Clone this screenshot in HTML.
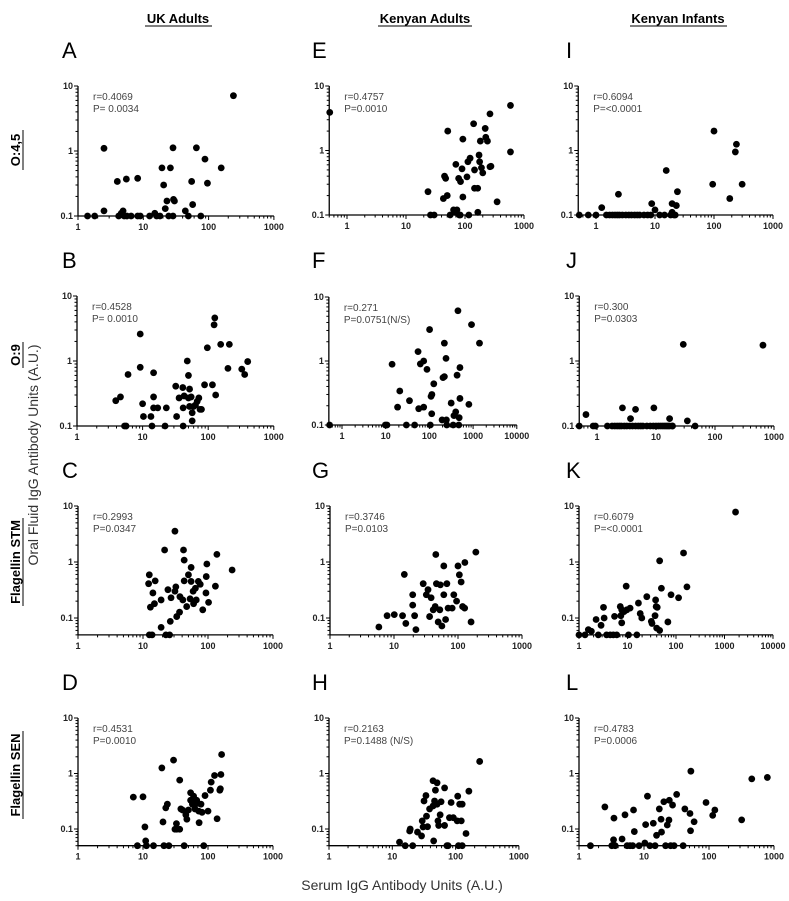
<!DOCTYPE html>
<html><head><meta charset="utf-8">
<style>
html,body{margin:0;padding:0;background:#fff;}
svg{display:block;font-family:"Liberation Sans",Arial,sans-serif;}
</style></head>
<body>
<svg id="fig" width="789" height="901" viewBox="0 0 789 901">
<text x="178" y="23" font-size="13" font-weight="bold" text-anchor="middle">UK Adults</text>
<line x1="145" y1="26" x2="212" y2="26" stroke="#000" stroke-width="1"/>
<text x="425" y="23" font-size="13" font-weight="bold" text-anchor="middle">Kenyan Adults</text>
<line x1="378" y1="26" x2="472" y2="26" stroke="#000" stroke-width="1"/>
<text x="678" y="23" font-size="13" font-weight="bold" text-anchor="middle">Kenyan Infants</text>
<line x1="630" y1="26" x2="727" y2="26" stroke="#000" stroke-width="1"/>

<g transform="translate(20,150) rotate(-90)"><text font-size="13" font-weight="bold" text-anchor="middle">O:4,5</text><line x1="-20" y1="3" x2="20" y2="3" stroke="#000"/></g>
<g transform="translate(20,355) rotate(-90)"><text font-size="13" font-weight="bold" text-anchor="middle">O:9</text><line x1="-13" y1="3" x2="13" y2="3" stroke="#000"/></g>
<g transform="translate(20,562) rotate(-90)"><text font-size="13" font-weight="bold" text-anchor="middle">Flagellin STM</text><line x1="-44" y1="3" x2="44" y2="3" stroke="#000"/></g>
<g transform="translate(20,775) rotate(-90)"><text font-size="13" font-weight="bold" text-anchor="middle">Flagellin SEN</text><line x1="-44" y1="3" x2="44" y2="3" stroke="#000"/></g>
<text transform="translate(38,455) rotate(-90)" font-size="14" text-anchor="middle" fill="#333">Oral Fluid IgG Antibody Units (A.U.)</text>
<text x="402" y="890" font-size="14" text-anchor="middle" fill="#333">Serum IgG Antibody Units (A.U.)</text>
</svg>
<script>
// Panel data (x = serum units, y = oral fluid units)
const aX=[1.4,1.8,2.5,2.5,4.0,5.5,8.2,4.2,4.6,4.9,5.1,5.6,6.5,8.2,9,12.5,15,16,18,19.3,20.5,21.7,23,24.5,26,28.5,29,30,28.5,44,49,55,57,65,76,88,96,156,240];
const aY=[0.1,0.1,0.12,1.1,0.34,0.37,0.38,0.1,0.11,0.12,0.1,0.1,0.1,0.1,0.1,0.1,0.11,0.1,0.1,0.55,0.3,0.13,0.17,0.1,0.55,1.12,0.18,0.17,0.1,0.12,0.1,0.34,0.15,1.12,0.1,0.75,0.32,0.55,7.1];
const eX=[0.51,23.6,26,30,45,47,43,50,51,70,64,73,78,84,89,92,92,56,68,80,83,116,108,112,122,140,145,145,164,165,173,177,182,190,200,220,225,240,265,265,275,350,590,590];
const eY=[3.9,0.23,0.1,0.1,0.4,0.37,0.18,0.2,2.0,0.61,0.12,0.12,0.37,0.33,0.52,1.5,0.19,0.1,0.11,0.1,0.1,0.1,0.39,0.67,0.76,2.6,0.5,0.26,0.26,0.11,0.85,0.67,1.4,0.54,0.45,2.2,1.6,1.4,0.56,3.7,0.57,0.16,5.0,0.95];
const iX=[0.52,0.74,1,1.25,1.5,1.7,1.9,2.1,2.3,2.5,2.8,3.2,3.6,4,4.5,5,5.5,6.5,7.5,8.5,2.4,8.8,10,12,14.5,15.5,18.4,19.5,19.5,21,22,23,24,95,100,185,230,240,300];
const iY=[0.1,0.1,0.1,0.13,0.1,0.1,0.1,0.1,0.1,0.1,0.1,0.1,0.1,0.1,0.1,0.1,0.1,0.1,0.1,0.1,0.21,0.15,0.12,0.1,0.1,0.49,0.1,0.15,0.11,0.1,0.1,0.14,0.23,0.3,2.0,0.18,0.95,1.25,0.3];
const bX=[3.9,4.6,5.3,5.6,6,9.2,9.2,10,10.3,13.4,13.9,14.7,14.7,14.7,17,22,23,32,33,36,41,41.5,41.5,43,48,50,50,52,52,55,57,57,60,64,68,72,75,79,88,97,116,123,126,130,155,210,200,325,360,400];
const bY=[0.245,0.28,0.1,0.1,0.62,2.6,0.8,0.22,0.14,0.14,0.1,0.66,0.28,0.19,0.19,0.1,0.19,0.41,0.14,0.27,0.39,0.1,0.19,0.29,1.0,0.6,0.27,0.37,0.2,0.28,0.12,0.16,0.2,0.21,0.24,0.27,0.18,0.18,0.43,1.6,0.43,3.6,4.6,0.3,1.8,1.8,0.77,0.75,0.62,0.98];
const fX=[0.52,9.8,10.7,14,18.7,21,29.7,35,46,55,57,62,74,74,88,101,105,109,114,113,126,195,205,220,220,240,245,250,315,350,365,400,430,450,470,480,500,500,800,920,1400];
const fY=[0.1,0.1,0.1,0.89,0.19,0.34,0.1,0.24,0.1,1.4,0.18,0.9,1.0,0.19,0.74,3.1,0.1,0.28,0.3,0.15,0.44,0.12,0.55,0.57,1.9,1.1,0.12,0.1,0.22,0.1,0.14,0.16,0.6,6.1,0.1,0.13,0.79,0.26,0.21,3.7,1.9];
const jX=[0.5,0.65,0.86,0.94,1.5,1.8,2,2.2,2.4,2.6,2.9,3.2,3.6,4,4.5,5,5.5,6,7,8,9,10,11,12,13,14,15,16,17,19,2.7,3.7,4.5,9.2,17,19,29,34,46,650];
const jY=[0.1,0.15,0.1,0.1,0.1,0.1,0.1,0.1,0.1,0.1,0.1,0.1,0.1,0.1,0.1,0.1,0.1,0.1,0.1,0.1,0.1,0.1,0.1,0.1,0.1,0.1,0.1,0.1,0.1,0.1,0.19,0.13,0.18,0.19,0.13,0.1,1.8,0.12,0.1,1.75];
const cX=[12.2,12.5,12.5,13,13.8,14.2,15,15.4,19,19,21.5,22.5,24.2,25.7,26.3,27,31,31,32,33,36.5,37,41,42,43,43,47,50,53,55,55,59,60,64,66,71,76,83,93,94,96,102,130,137,235];
const cY=[0.41,0.59,0.05,0.156,0.05,0.28,0.18,0.46,0.21,0.068,1.64,0.05,0.32,0.05,0.087,0.23,3.55,0.3,0.36,0.106,0.127,0.24,0.21,1.64,1.08,0.46,0.16,0.59,0.22,0.8,0.45,0.3,0.18,0.34,0.21,0.45,0.4,0.14,0.28,0.55,0.92,0.19,0.37,1.37,0.72];
const gX=[5.8,7.8,10.1,13.6,14.5,15.3,19.6,19.6,21,22,28.6,32,34,36,38,41,44,45,46,49,52,53,56,60,60,64,67,70,81,86,95,100,105,112,118,127,128,160,190];
const gY=[0.069,0.11,0.115,0.11,0.6,0.08,0.26,0.17,0.11,0.062,0.41,0.26,0.32,0.106,0.23,0.14,0.16,1.36,0.41,0.085,0.14,0.39,0.072,0.85,0.26,0.094,0.41,0.15,0.15,0.26,0.2,0.85,0.59,0.44,0.16,0.15,0.98,0.085,1.5];
const kX=[1,1.33,1.56,1.8,2.25,2.5,2.85,3.2,3.3,3.7,4.4,5.1,6.0,5.4,7.1,7.3,7.6,7.6,8.5,9.4,9.7,10.5,11.3,15.6,16.8,18.3,19.7,25,31,32,37,38,39,40,41,46,46,50,68,79,113,143,168,1690];
const kY=[0.05,0.05,0.062,0.058,0.094,0.05,0.074,0.155,0.1,0.05,0.05,0.05,0.05,0.107,0.16,0.11,0.082,0.14,0.13,0.37,0.14,0.05,0.15,0.05,0.185,0.12,0.1,0.24,0.087,0.08,0.11,0.21,0.16,0.066,0.155,1.05,0.06,0.34,0.085,0.26,0.23,1.45,0.36,7.8];
const dX=[7.1,10,8.2,10.7,11,11.3,14.5,19.5,21,20.3,22.4,23.7,25,29.5,31,32.7,33,36.7,38.2,36.7,40.5,43,45.6,47.3,50,54,54,57.6,60,63,67,69,72,73,78,81,86,90,100,109,112,126,138,152,155,158,162];
const dY=[0.375,0.38,0.05,0.109,0.061,0.05,0.05,1.26,0.05,0.134,0.24,0.28,0.05,1.74,0.099,0.125,0.099,0.099,0.23,0.76,0.22,0.05,0.18,0.15,0.22,0.45,0.33,0.28,0.39,0.23,0.33,0.29,0.21,0.13,0.28,0.2,0.05,0.4,0.21,0.5,0.7,0.92,0.153,0.5,0.53,0.96,2.2];
const hX=[13,16,18.8,19.2,21,25,29,29.7,30.6,31.7,34,34.7,36,38.8,44,44,45,46.5,48,51,51,52.6,54,57,59,67,67,73,76,80,85,92,108,106,111,116,127,123,127,146,162,240];
const hY=[0.058,0.05,0.092,0.1,0.05,0.088,0.075,0.14,0.109,0.32,0.4,0.17,0.11,0.23,0.26,0.74,0.061,0.32,0.5,0.68,0.28,0.14,0.116,0.18,0.31,0.55,0.116,0.05,0.05,0.16,0.3,0.16,0.39,0.14,0.05,0.28,0.05,0.14,0.28,0.083,0.48,1.65];
const lX=[1.5,2.5,3.2,3.4,3.45,3.6,4.6,5.1,5.5,6.1,6.7,6.9,7.1,8.4,10.3,10.6,11.3,12.3,13.9,14.8,15.6,17.2,18.3,18.6,20.2,21.5,22.8,24.2,24.5,25.7,27.5,29,31.8,40,42.5,51,52,52.6,59,90,114,123,318,455,790];
const lY=[0.05,0.25,0.05,0.064,0.157,0.05,0.066,0.18,0.05,0.05,0.05,0.22,0.09,0.05,0.056,0.12,0.39,0.05,0.127,0.05,0.077,0.23,0.15,0.088,0.31,0.05,0.118,0.145,0.33,0.05,0.27,0.05,0.42,0.05,0.23,0.19,0.093,1.1,0.135,0.3,0.176,0.22,0.146,0.8,0.85];

const letters=["A","E","I","B","F","J","C","G","K","D","H","L"];
const rTexts=["r=0.4069","r=0.4757","r=0.6094","r=0.4528","r=0.271","r=0.300","r=0.2993","r=0.3746","r=0.6079","r=0.4531","r=0.2163","r=0.4783"];
const pTexts=["P= 0.0034","P=0.0010","P=<0.0001","P= 0.0010","P=0.0751(N/S)","P=0.0303","P=0.0347","P=0.0103","P=<0.0001","P=0.0010","P=0.1488 (N/S)","P=0.0006"];
const xTickLabels=[[1,10,100,1000],[1,10,100,1000],[1,10,100,1000],[1,10,100,1000],[1,10,100,1000,10000],[1,10,100,1000],[1,10,100,1000],[1,10,100,1000],[1,10,100,1000,10000],[1,10,100,1000],[1,10,100,1000],[1,10,100,1000]];
const yTickLabels=[10,1,0.1];

// layout (pixel geometry, not data)
const panels=[
 {x1:78,dec:65.3,xmin:1,xmax:1000,y10:86,yd:65,ymin:0.1,X:aX,Y:aY,lx:62,ly:58},
 {x1:347,dec:59,xmin:0.5,xmax:1000,y10:86,yd:64.5,ymin:0.1,X:eX,Y:eY,lx:312,ly:58},
 {x1:596,dec:59,xmin:0.5,xmax:1000,y10:86,yd:64.5,ymin:0.1,X:iX,Y:iY,lx:566,ly:58},
 {x1:77,dec:65.6,xmin:1,xmax:1000,y10:296,yd:65,ymin:0.1,X:bX,Y:bY,lx:62,ly:268},
 {x1:342,dec:43.7,xmin:0.5,xmax:10000,y10:297,yd:64,ymin:0.1,X:fX,Y:fY,lx:312,ly:268},
 {x1:597,dec:59,xmin:0.5,xmax:1000,y10:296,yd:65,ymin:0.1,X:jX,Y:jY,lx:566,ly:268},
 {x1:78,dec:65,xmin:1,xmax:1000,y10:506,yd:56,ymin:0.05,X:cX,Y:cY,lx:62,ly:478},
 {x1:330,dec:64,xmin:1,xmax:1000,y10:506,yd:56,ymin:0.05,X:gX,Y:gY,lx:312,ly:478},
 {x1:579,dec:48.5,xmin:1,xmax:10000,y10:506,yd:56,ymin:0.05,X:kX,Y:kY,lx:566,ly:478},
 {x1:78,dec:65,xmin:1,xmax:1000,y10:718,yd:55.5,ymin:0.05,X:dX,Y:dY,lx:62,ly:690},
 {x1:329,dec:63.3,xmin:1,xmax:1000,y10:718,yd:55.5,ymin:0.05,X:hX,Y:hY,lx:312,ly:690},
 {x1:579,dec:65,xmin:1,xmax:1000,y10:718,yd:55.5,ymin:0.05,X:lX,Y:lY,lx:566,ly:690}
];
const NS="http://www.w3.org/2000/svg";
const svg=document.getElementById('fig');
function mk(tag,attrs,parent){const e=document.createElementNS(NS,tag);for(const k in attrs)e.setAttribute(k,attrs[k]);parent.appendChild(e);return e;}
panels.forEach((p,i)=>{
 const sx=v=>p.x1+Math.log10(v)*p.dec;
 const sy=v=>p.y10+(1-Math.log10(v))*p.yd;
 const g=mk('g',{},svg);
 
 
 const L=mk('text',{x:p.lx,y:p.ly,'font-size':22},g);L.textContent=letters[i];
 
 
 const x0=sx(p.xmin),xe=sx(p.xmax),yb=sy(p.ymin),yt=sy(10);
 const ax=mk('g',{stroke:'#000','stroke-width':1.3},g);
 
 
 mk('line',{x1:x0,y1:yb,x2:xe,y2:yb},ax);
 mk('line',{x1:x0,y1:yb,x2:x0,y2:yt},ax);
 for(let d=-1;d<=4;d++){for(let m=1;m<10;m++){const v=m*Math.pow(10,d);if(v<p.xmin-1e-9||v>p.xmax+1e-9)continue;const X=sx(v);mk('line',{x1:X,y1:yb,x2:X,y2:yb+(m==1?4:2.5),'stroke-width':1},ax);}}
 for(let d=-2;d<=1;d++){for(let m=1;m<10;m++){const v=m*Math.pow(10,d);if(v<p.ymin-1e-9||v>10+1e-9)continue;const Y=sy(v);mk('line',{x1:x0,y1:Y,x2:x0-(m==1?4:2.5),y2:Y,'stroke-width':1},ax);}}
 xTickLabels[i].forEach(v=>{const t=mk('text',{x:sx(v),y:yb+14,'font-size':9,'font-weight':'bold','text-anchor':'middle',fill:'#222'},g);t.textContent=v;
  
  });
 yTickLabels.forEach(v=>{const t=mk('text',{x:x0-5,y:sy(v)+3,'font-size':9,'font-weight':'bold','text-anchor':'end',fill:'#222'},g);t.textContent=v;
  
  });
 const r=mk('text',{x:x0+15,y:yt+14,'font-size':10,fill:'#444'},g);r.textContent=rTexts[i];
 
 
 const pp=mk('text',{x:x0+15,y:yt+26,'font-size':10,fill:'#444'},g);pp.textContent=pTexts[i];
 
 
 p.X.forEach((xv,k)=>{const c=mk('circle',{cx:sx(xv),cy:sy(p.Y[k]),r:3.4,fill:'#000'},g);
  
  });
});
</script>
</body></html>
